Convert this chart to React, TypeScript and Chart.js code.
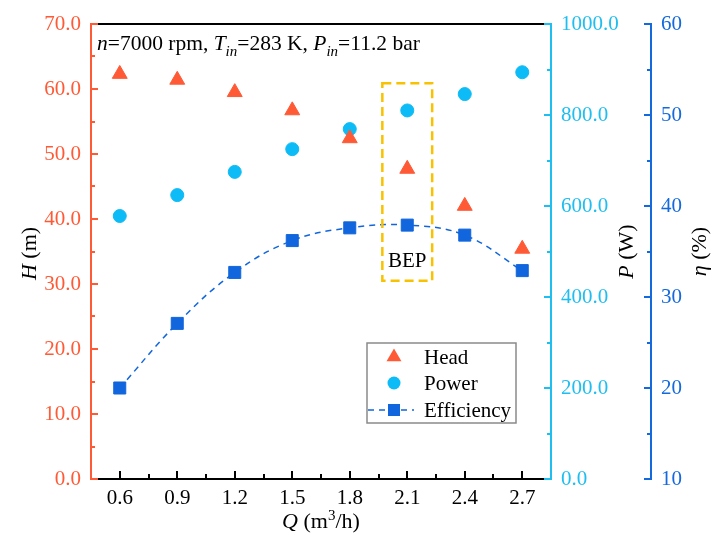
import React, { useEffect, useRef } from 'react';
import { Chart, registerables } from 'chart.js';

Chart.register(...registerables);

// ---------- data ----------
const flowRates = [0.6, 0.9, 1.2, 1.5, 1.8, 2.1, 2.4, 2.7];
const headValues = [62.3, 61.4, 59.5, 56.7, 52.4, 47.7, 42.0, 35.4];
const powerValues = [578, 624, 675, 725, 769, 810, 846, 894];
const efficiencyValues = [20.0, 27.1, 32.7, 36.2, 37.6, 37.9, 36.8, 32.9];

const xTicks = [0.6, 0.9, 1.2, 1.5, 1.8, 2.1, 2.4, 2.7];
const xMinorTicks = [0.45, 0.75, 1.05, 1.35, 1.65, 1.95, 2.25, 2.55, 2.85];
const headTicks = [0, 10, 20, 30, 40, 50, 60, 70];
const headMinorTicks = [5, 15, 25, 35, 45, 55, 65];
const powerTicks = [0, 200, 400, 600, 800, 1000];
const powerMinorTicks = [100, 300, 500, 700, 900];
const effTicks = [10, 20, 30, 40, 50, 60];
const effMinorTicks = [15, 25, 35, 45, 55];

const xRange = [0.45, 2.85];
const headRange = [0, 70];
const powerRange = [0, 1000];
const effRange = [10, 60];

const bepBox = { xFrom: 1.97, xTo: 2.23, yFrom: 30.5, yTo: 60.9 };
const bepLabel = { x: 2.1, y: 33.4, text: 'BEP' };

const seriesLabels = ['Head', 'Power', 'Efficiency'];

// ---------- styles ----------
const FONT = '"Liberation Serif", "Times New Roman", serif';
const headColor = '#FF5A36';
const powerColor = '#0DBCF6';
const effColor = '#1166DD';
const powerAxisColor = '#1EBEF0';
const effAxisColor = '#1469DC';
const bepColor = '#F8C200';

type Run = { t: string; i?: boolean; sub?: boolean; sup?: boolean };

const fontStr = (size: number, italic?: boolean) => `${italic ? 'italic ' : ''}${size}px ${FONT}`;

function runSize(r: Run, size: number) {
  return r.sub || r.sup ? Math.round(size * 0.68) : size;
}

function measureRuns(ctx: CanvasRenderingContext2D, runs: Run[], size: number) {
  let w = 0;
  for (const r of runs) {
    ctx.font = fontStr(runSize(r, size), r.i);
    w += ctx.measureText(r.t).width;
  }
  return w;
}

function drawRuns(ctx: CanvasRenderingContext2D, runs: Run[], x: number, y: number, size: number) {
  let cx = x;
  for (const r of runs) {
    ctx.font = fontStr(runSize(r, size), r.i);
    const dy = r.sub ? size * 0.28 : r.sup ? -size * 0.38 : 0;
    ctx.fillText(r.t, cx, y + dy);
    cx += ctx.measureText(r.t).width;
  }
}

function seg(ctx: CanvasRenderingContext2D, x1: number, y1: number, x2: number, y2: number) {
  ctx.beginPath();
  ctx.moveTo(x1, y1);
  ctx.lineTo(x2, y2);
  ctx.stroke();
}

const decorPlugin = {
  id: 'decor',
  afterDatasetsDraw(chart: any) {
    const { ctx, chartArea } = chart;
    const { left, right, top, bottom } = chartArea;
    const sx = chart.scales.x;
    const sh = chart.scales.y;
    const sp = chart.scales.y1;
    const se = chart.scales.y2;
    ctx.save();
    ctx.lineWidth = 2;
    ctx.setLineDash([]);

    // BEP box
    ctx.save();
    ctx.strokeStyle = bepColor;
    ctx.lineWidth = 2.5;
    ctx.setLineDash([9, 5]);
    const bx0 = sx.getPixelForValue(bepBox.xFrom);
    const bx1 = sx.getPixelForValue(bepBox.xTo);
    const by0 = sh.getPixelForValue(bepBox.yTo);
    const by1 = sh.getPixelForValue(bepBox.yFrom);
    ctx.strokeRect(bx0, by0, bx1 - bx0, by1 - by0);
    ctx.restore();
    ctx.fillStyle = '#000';
    ctx.font = fontStr(21);
    ctx.textAlign = 'center';
    ctx.textBaseline = 'middle';
    ctx.fillText(bepLabel.text, sx.getPixelForValue(bepLabel.x), sh.getPixelForValue(bepLabel.y));

    // top and bottom black axes
    ctx.strokeStyle = '#000';
    seg(ctx, left, top, right, top);
    seg(ctx, left, bottom, right, bottom);
    for (const v of xTicks) {
      const px = Math.round(sx.getPixelForValue(v));
      seg(ctx, px, bottom, px, bottom - 8);
    }
    for (const v of xMinorTicks) {
      const px = Math.round(sx.getPixelForValue(v));
      seg(ctx, px, bottom, px, bottom - 5);
    }

    // left H axis
    ctx.strokeStyle = headColor;
    seg(ctx, left, top - 1, left, bottom + 1);
    for (const v of headTicks) {
      const py = Math.round(sh.getPixelForValue(v));
      seg(ctx, left, py, left + 7, py);
    }
    for (const v of headMinorTicks) {
      const py = Math.round(sh.getPixelForValue(v));
      seg(ctx, left, py, left + 4, py);
    }

    // right P axis
    ctx.strokeStyle = powerAxisColor;
    seg(ctx, right, top - 1, right, bottom + 1);
    for (const v of powerTicks) {
      const py = Math.round(sp.getPixelForValue(v));
      seg(ctx, right, py, right - 7, py);
    }
    for (const v of powerMinorTicks) {
      const py = Math.round(sp.getPixelForValue(v));
      seg(ctx, right, py, right - 4, py);
    }

    // eta axis
    const ex = se.left;
    ctx.strokeStyle = effAxisColor;
    seg(ctx, ex, top - 1, ex, bottom + 1);
    for (const v of effTicks) {
      const py = Math.round(se.getPixelForValue(v));
      seg(ctx, ex, py, ex - 7, py);
    }
    for (const v of effMinorTicks) {
      const py = Math.round(se.getPixelForValue(v));
      seg(ctx, ex, py, ex - 4, py);
    }

    // header text
    ctx.fillStyle = '#000';
    ctx.textAlign = 'left';
    ctx.textBaseline = 'alphabetic';
    drawRuns(
      ctx,
      [
        { t: 'n', i: true },
        { t: '=7000 rpm, ' },
        { t: 'T', i: true },
        { t: 'in', i: true, sub: true },
        { t: '=283 K, ' },
        { t: 'P', i: true },
        { t: 'in', i: true, sub: true },
        { t: '=11.2 bar' },
      ],
      left + 6,
      top + 26,
      21.5
    );

    // axis titles
    const titleSize = 22;
    const vTitle = (runs: Run[], cx: number, cy: number, color: string) => {
      ctx.save();
      ctx.fillStyle = color;
      ctx.translate(cx, cy);
      ctx.rotate(-Math.PI / 2);
      ctx.textBaseline = 'middle';
      const w = measureRuns(ctx, runs, titleSize);
      drawRuns(ctx, runs, -w / 2, 0, titleSize);
      ctx.restore();
    };
    const midY = (top + bottom) / 2;
    vTitle([{ t: 'H', i: true }, { t: ' (m)' }], 30, midY + 2, '#000');
    vTitle([{ t: 'P', i: true }, { t: ' (W)' }], 627, midY, '#000');
    vTitle([{ t: 'η', i: true }, { t: ' (%)' }], 700, midY, '#000');
    const qRuns: Run[] = [{ t: 'Q', i: true }, { t: ' (m' }, { t: '3', sup: true }, { t: '/h)' }];
    const qw = measureRuns(ctx, qRuns, titleSize);
    ctx.textBaseline = 'alphabetic';
    drawRuns(ctx, qRuns, (left + right) / 2 - qw / 2, bottom + 49, titleSize);

    // legend
    const lgX = 367, lgY = 343, lgW = 149, lgH = 80;
    ctx.fillStyle = '#fff';
    ctx.fillRect(lgX, lgY, lgW, lgH);
    ctx.strokeStyle = '#8a8a8a';
    ctx.lineWidth = 1.5;
    ctx.strokeRect(lgX, lgY, lgW, lgH);
    const rows = [lgY + 14, lgY + 40, lgY + 67];
    const mx = lgX + 27;
    const ds = chart.data.datasets;
    ds.forEach((d: any, i: number) => {
      const ry = rows[i];
      if (d.showLine) {
        ctx.save();
        ctx.strokeStyle = d.borderColor;
        ctx.lineWidth = d.borderWidth;
        ctx.setLineDash(d.borderDash);
        seg(ctx, lgX + 1, ry, lgX + 47, ry);
        ctx.restore();
      }
      ctx.save();
      ctx.fillStyle = d.pointBackgroundColor;
      ctx.strokeStyle = d.pointBorderColor;
      ctx.lineWidth = 1;
      ctx.setLineDash([]);
      const r = d.pointRadius;
      if (d.pointStyle === 'triangle') {
        ctx.beginPath();
        ctx.moveTo(mx, ry - r);
        ctx.lineTo(mx + r * 0.866, ry + r * 0.5);
        ctx.lineTo(mx - r * 0.866, ry + r * 0.5);
        ctx.closePath();
        ctx.fill();
      } else if (d.pointStyle === 'circle') {
        ctx.beginPath();
        ctx.arc(mx, ry, r, 0, Math.PI * 2);
        ctx.fill();
      } else {
        const h = r * Math.SQRT1_2;
        ctx.fillRect(mx - h, ry - h, 2 * h, 2 * h);
      }
      ctx.restore();
      ctx.fillStyle = '#000';
      ctx.font = fontStr(21);
      ctx.textAlign = 'left';
      ctx.textBaseline = 'middle';
      ctx.fillText(d.label, lgX + 57, ry + 1);
    });

    ctx.restore();
  },
};

const bgPlugin = {
  id: 'bg',
  beforeDraw(chart: any) {
    const { ctx, width, height } = chart;
    ctx.save();
    ctx.fillStyle = '#ffffff';
    ctx.fillRect(0, 0, width, height);
    ctx.restore();
  },
};

const fixedTicks = (arr: number[]) => (s: any) => {
  s.ticks = arr.map((value) => ({ value }));
};

export default function App() {
  const ref = useRef<HTMLCanvasElement | null>(null);

  useEffect(() => {
    if (!ref.current) return;
    const tickFont = { family: FONT, size: 21 };
    const chart = new Chart(ref.current, {
      type: 'scatter',
      data: {
        datasets: [
          {
            label: seriesLabels[0],
            data: flowRates.map((x, i) => ({ x, y: headValues[i] })),
            xAxisID: 'x',
            yAxisID: 'y',
            showLine: false,
            pointStyle: 'triangle',
            pointRadius: 8.6,
            pointBackgroundColor: headColor,
            pointBorderColor: headColor,
            pointBorderWidth: 1,
            borderColor: headColor,
            backgroundColor: headColor,
          },
          {
            label: seriesLabels[1],
            data: flowRates.map((x, i) => ({ x, y: powerValues[i] })),
            xAxisID: 'x',
            yAxisID: 'y1',
            showLine: false,
            pointStyle: 'circle',
            pointRadius: 6.5,
            pointBackgroundColor: powerColor,
            pointBorderColor: powerColor,
            pointBorderWidth: 1,
            borderColor: powerColor,
            backgroundColor: powerColor,
          },
          {
            label: seriesLabels[2],
            type: 'line',
            data: flowRates.map((x, i) => ({ x, y: efficiencyValues[i] })),
            xAxisID: 'x',
            yAxisID: 'y2',
            showLine: true,
            tension: 0.4,
            borderColor: effColor,
            borderWidth: 1.5,
            borderDash: [6, 5],
            fill: false,
            pointStyle: 'rect',
            pointRadius: 8.5,
            pointBackgroundColor: effColor,
            pointBorderColor: effColor,
            pointBorderWidth: 1,
            backgroundColor: effColor,
          } as any,
        ],
      },
      options: {
        responsive: false,
        animation: false,
        devicePixelRatio: 1,
        layout: { padding: { top: 24, left: 0, right: 0, bottom: 0 } },
        plugins: {
          legend: { display: false },
          tooltip: { enabled: false },
          title: { display: false },
        },
        scales: {
          x: {
            type: 'linear',
            position: 'bottom',
            min: xRange[0],
            max: xRange[1],
            afterBuildTicks: fixedTicks(xTicks),
            afterFit: (s: any) => {
              s.height = 55;
            },
            grid: { display: false, drawTicks: false },
            border: { display: false },
            ticks: {
              color: '#000',
              font: tickFont,
              padding: 7,
              autoSkip: false,
              maxRotation: 0,
              callback: (v: any) => Number(v).toFixed(1),
            },
          },
          y: {
            type: 'linear',
            position: 'left',
            min: headRange[0],
            max: headRange[1],
            afterBuildTicks: fixedTicks(headTicks),
            afterFit: (s: any) => {
              s.width = 91;
            },
            grid: { display: false, drawTicks: false },
            border: { display: false },
            ticks: {
              color: headColor,
              font: tickFont,
              padding: 10,
              callback: (v: any) => Number(v).toFixed(1),
            },
          },
          y1: {
            type: 'linear',
            position: 'right',
            min: powerRange[0],
            max: powerRange[1],
            afterBuildTicks: fixedTicks(powerTicks),
            afterFit: (s: any) => {
              s.width = 100;
            },
            grid: { display: false, drawTicks: false },
            border: { display: false },
            ticks: {
              color: powerAxisColor,
              font: tickFont,
              padding: 10,
              callback: (v: any) => Number(v).toFixed(1),
            },
          },
          y2: {
            type: 'linear',
            position: 'right',
            min: effRange[0],
            max: effRange[1],
            afterBuildTicks: fixedTicks(effTicks),
            afterFit: (s: any) => {
              s.width = 61;
            },
            grid: { display: false, drawTicks: false },
            border: { display: false },
            ticks: {
              color: effAxisColor,
              font: tickFont,
              padding: 10,
              callback: (v: any) => String(Math.round(Number(v))),
            },
          },
        },
      } as any,
      plugins: [bgPlugin, decorPlugin],
    });
    return () => chart.destroy();
  }, []);

  return (
    <div style={{ position: 'absolute', left: 0, top: 0, width: 712, height: 534, background: '#fff' }}>
      <canvas ref={ref} width={712} height={534} style={{ display: 'block', width: 712, height: 534 }} />
    </div>
  );
}
